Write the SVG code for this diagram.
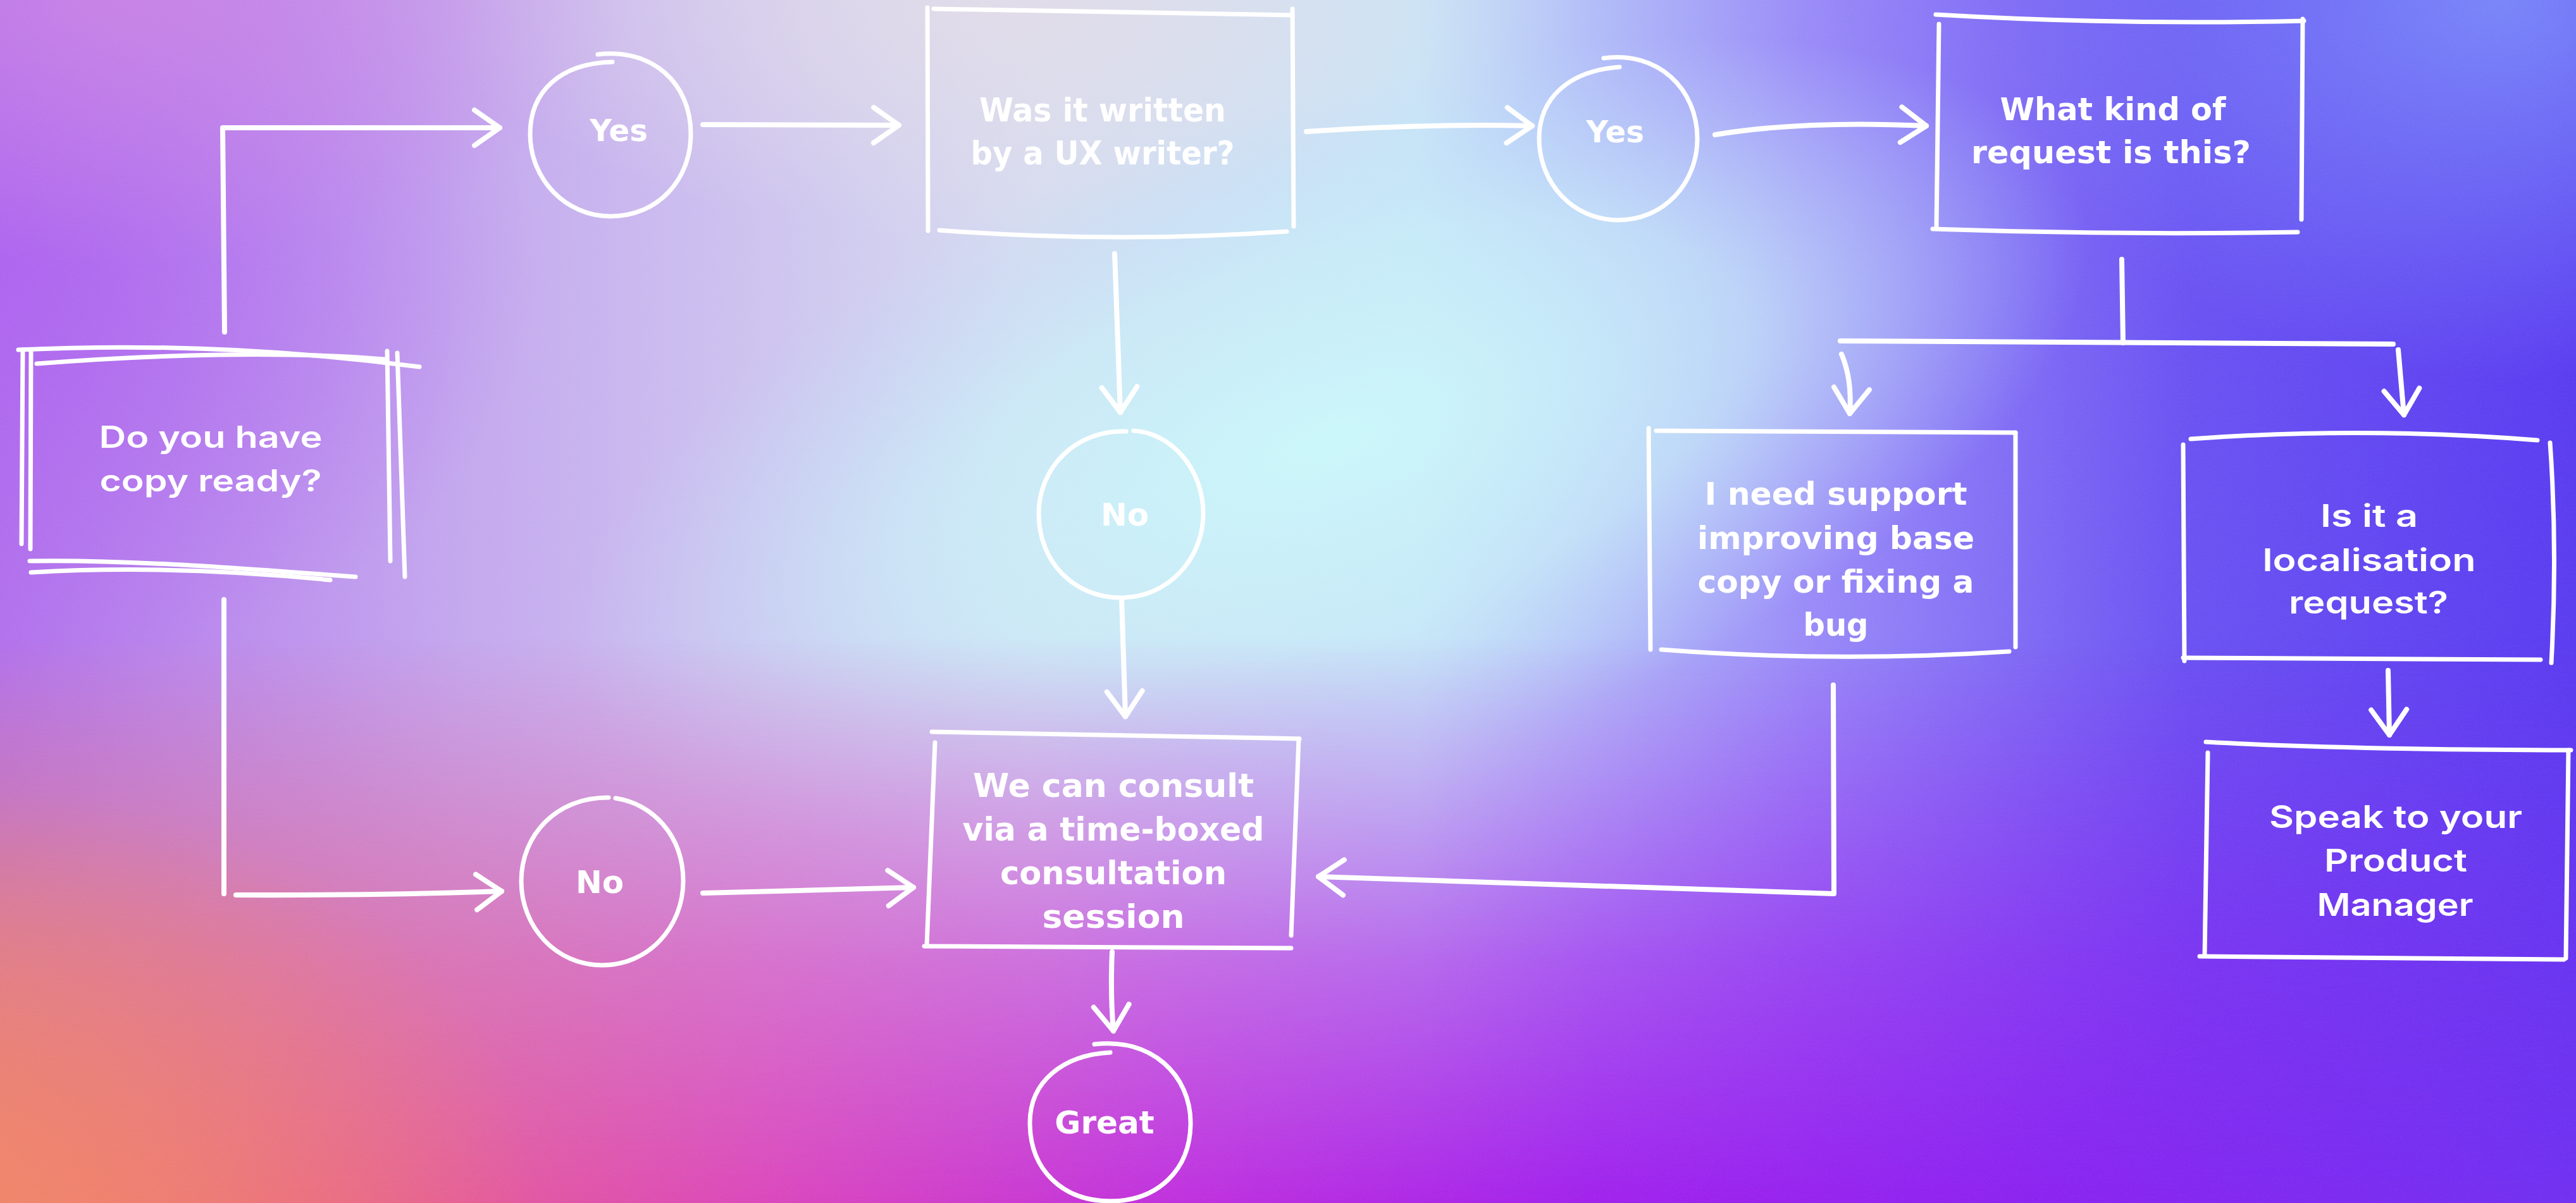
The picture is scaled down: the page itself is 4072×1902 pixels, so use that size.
<svg xmlns="http://www.w3.org/2000/svg" width="4072" height="1902" viewBox="0 0 4072 1902">
<style>
.sk{fill:none;stroke:#fff;stroke-width:7;stroke-linecap:round;stroke-linejoin:round}
.cn{fill:none;stroke:#fff;stroke-width:8;stroke-linecap:round;stroke-linejoin:round}
.ar{marker-end:url(#head)}
.t{fill:#fff;font-family:"DejaVu Sans","Liberation Sans",sans-serif;font-weight:bold;text-anchor:middle}
.m{fill:#fff;font-family:"Inter","Liberation Sans",sans-serif;font-weight:600;text-anchor:middle}
</style>
<defs>
<linearGradient id="base" x1="0" y1="0" x2="4072" y2="0" gradientUnits="userSpaceOnUse">
<stop offset="0" stop-color="#b272ec"/>
<stop offset="0.18" stop-color="#c4a8ee"/>
<stop offset="0.4" stop-color="#d6dcf0"/>
<stop offset="0.55" stop-color="#c6e6f8"/>
<stop offset="0.7" stop-color="#9a8cf8"/>
<stop offset="0.85" stop-color="#6a52f2"/>
<stop offset="1" stop-color="#5a3cf0"/>
</linearGradient>
<radialGradient id="cyan" cx="0" cy="0" r="1" gradientUnits="userSpaceOnUse" gradientTransform="translate(2100 700) rotate(-18) scale(1250 540)">
<stop offset="0" stop-color="#cbf7fa" stop-opacity="1"/>
<stop offset="0.55" stop-color="#c8ecf8" stop-opacity="0.7"/>
<stop offset="1" stop-color="#c0d8f8" stop-opacity="0"/>
</radialGradient>
<radialGradient id="tr" cx="0" cy="0" r="1" gradientUnits="userSpaceOnUse" gradientTransform="translate(3950 0) scale(800 600)">
<stop offset="0" stop-color="#7e92fa" stop-opacity="0.85"/>
<stop offset="1" stop-color="#7e92fa" stop-opacity="0"/>
</radialGradient>
<radialGradient id="tl" cx="0" cy="0" r="1" gradientUnits="userSpaceOnUse" gradientTransform="translate(0 420) scale(850 650)">
<stop offset="0" stop-color="#ac60f0" stop-opacity="0.75"/>
<stop offset="1" stop-color="#ac60f0" stop-opacity="0"/>
</radialGradient>
<radialGradient id="pk" cx="0" cy="0" r="1" gradientUnits="userSpaceOnUse" gradientTransform="translate(200 0) scale(800 420)">
<stop offset="0" stop-color="#cc86e4" stop-opacity="0.8"/>
<stop offset="1" stop-color="#cc86e4" stop-opacity="0"/>
</radialGradient>
<radialGradient id="tc" cx="0" cy="0" r="1" gradientUnits="userSpaceOnUse" gradientTransform="translate(1600 0) scale(900 380)">
<stop offset="0" stop-color="#e2dce8" stop-opacity="0.9"/>
<stop offset="1" stop-color="#e2dce8" stop-opacity="0"/>
</radialGradient>
<linearGradient id="bot" x1="0" y1="0" x2="4072" y2="0" gradientUnits="userSpaceOnUse">
<stop offset="0" stop-color="#ee7e6a"/>
<stop offset="0.12" stop-color="#e8648a"/>
<stop offset="0.3" stop-color="#da46bc"/>
<stop offset="0.45" stop-color="#c030dc"/>
<stop offset="0.62" stop-color="#a020ec"/>
<stop offset="0.8" stop-color="#8a22f0"/>
<stop offset="1" stop-color="#7030f0"/>
</linearGradient>
<linearGradient id="mv" x1="0" y1="0" x2="0" y2="1902" gradientUnits="userSpaceOnUse">
<stop offset="0.53" stop-color="#000"/>
<stop offset="0.8" stop-color="#a8a8a8"/>
<stop offset="1" stop-color="#fff"/>
</linearGradient>
<mask id="mb"><rect width="4072" height="1902" fill="url(#mv)"/></mask>
<radialGradient id="coral" cx="0" cy="0" r="1" gradientUnits="userSpaceOnUse" gradientTransform="translate(0 1902) scale(850 650)">
<stop offset="0" stop-color="#f0866a" stop-opacity="0.85"/>
<stop offset="1" stop-color="#f0866a" stop-opacity="0"/>
</radialGradient>
<filter id="grain" x="0" y="0" width="100%" height="100%">
<feTurbulence type="fractalNoise" baseFrequency="0.85" numOctaves="2" stitchTiles="stitch"/>
<feColorMatrix type="matrix" values="0 0 0 0 1  0 0 0 0 1  0 0 0 0 1  1.4 0 0 0 -0.6"/>
</filter>
<marker id="head" markerUnits="userSpaceOnUse" viewBox="-50 -40 60 80" refX="0" refY="0" markerWidth="60" markerHeight="80" orient="auto" overflow="visible">
<path d="M-40,-28 L0,0 L-40,28" fill="none" stroke="#fff" stroke-width="8" stroke-linecap="round" stroke-linejoin="round"/>
</marker>
</defs>

<g id="background">
<rect width="4072" height="1902" fill="url(#base)"/>
<rect width="4072" height="1902" fill="url(#tl)"/>
<rect width="4072" height="1902" fill="url(#pk)"/>
<rect width="4072" height="1902" fill="url(#tc)"/>
<rect width="4072" height="1902" fill="url(#tr)"/>
<rect width="4072" height="1902" fill="url(#cyan)"/>
<rect width="4072" height="1902" fill="url(#bot)" mask="url(#mb)"/>
<rect width="4072" height="1902" fill="url(#coral)"/>
<rect width="4072" height="1902" filter="url(#grain)" opacity="0.12"/>
</g>

<g id="connectors">
<path class="cn ar" d="M355,525 L352,202 L790,202"/>
<path class="cn ar" d="M1111,197 L1421,198"/>
<path class="cn ar" d="M2065,208 Q2250,195 2422,199"/>
<path class="cn ar" d="M2711,213 Q2850,190 3045,199"/>
<path class="cn" d="M3354,410 L3356,542"/>
<path class="cn" d="M2909,539 L3783,544"/>
<path class="cn ar" d="M2911,560 Q2928,600 2924,654"/>
<path class="cn ar" d="M3791,553 L3800,656"/>
<path class="cn ar" d="M3775,1060 L3777,1162"/>
<path class="cn ar" d="M2898,1083 L2899,1413 L2084,1386"/>
<path class="cn ar" d="M1762,401 L1771,652"/>
<path class="cn ar" d="M1773,946 L1779,1133"/>
<path class="cn ar" d="M1758,1505 Q1755,1570 1760,1630"/>
<path class="cn" d="M354,948 L354,1413"/>
<path class="cn ar" d="M373,1415 Q600,1416 793,1409"/>
<path class="cn ar" d="M1111,1412 L1444,1403"/>
</g>

<g id="node-copy-ready">
<path class="sk" d="M29,553 C200,545 420,548 663,580"/>
<path class="sk" d="M58,575 C250,560 450,555 607,568"/>
<path class="sk" d="M36,553 L34,860"/>
<path class="sk" d="M49,555 L48,868"/>
<path class="sk" d="M612,555 L617,887"/>
<path class="sk" d="M628,558 L640,912"/>
<path class="sk" d="M47,887 C200,884 400,900 562,912"/>
<path class="sk" d="M49,905 C200,896 350,900 522,917"/>
<text class="m" x="333" y="708" font-size="48" textLength="353" lengthAdjust="spacingAndGlyphs">Do you have</text>
<text class="m" x="333" y="777" font-size="48" textLength="351" lengthAdjust="spacingAndGlyphs">copy ready?</text>
</g>

<g id="node-yes-1">
<path class="sk" d="M945,86 C1030,76 1092,130 1092,212 C1092,284 1040,342 965,342 C895,342 838,284 838,212 C838,145 885,100 968,98"/>
<text class="t" x="978" y="223" font-size="48">Yes</text>
</g>

<g id="node-ux-writer">
<path class="sk" d="M1466,12 L1467,365"/>
<path class="sk" d="M1476,14 L2043,24"/>
<path class="sk" d="M2043,14 L2045,358"/>
<path class="sk" d="M1485,364 Q1760,385 2034,366"/>
<text class="t" x="1743" y="192" font-size="52" textLength="390" lengthAdjust="spacingAndGlyphs">Was it written</text>
<text class="t" x="1743" y="260" font-size="52" textLength="417" lengthAdjust="spacingAndGlyphs">by a UX writer?</text>
</g>

<g id="node-yes-2">
<path class="sk" d="M2535,92 C2620,80 2683,140 2683,219 C2683,290 2630,348 2558,348 C2487,348 2433,290 2433,219 C2433,155 2480,112 2560,106"/>
<text class="t" x="2553" y="225" font-size="48">Yes</text>
</g>

<g id="node-request-kind">
<path class="sk" d="M3060,23 Q3350,40 3642,33"/>
<path class="sk" d="M3065,38 L3061,360"/>
<path class="sk" d="M3640,30 L3638,347"/>
<path class="sk" d="M3055,362 Q3340,372 3632,367"/>
<text class="t" x="3340" y="190" font-size="50" textLength="357" lengthAdjust="spacingAndGlyphs">What kind of</text>
<text class="t" x="3337" y="258" font-size="50" textLength="442" lengthAdjust="spacingAndGlyphs">request is this?</text>
</g>

<g id="node-no-1">
<path class="sk" d="M1792,681 C1850,684 1902,740 1902,812 C1902,885 1845,945 1772,945 C1699,945 1642,890 1642,812 C1642,740 1700,679 1780,682"/>
<text class="t" x="1778" y="831" font-size="50">No</text>
</g>

<g id="node-no-2">
<path class="sk" d="M973,1262 C1030,1270 1080,1320 1080,1393 C1080,1466 1025,1526 952,1526 C879,1526 824,1466 824,1393 C824,1320 880,1260 962,1261"/>
<text class="t" x="948" y="1412" font-size="50">No</text>
</g>

<g id="node-consult">
<path class="sk" d="M1473,1157 L2054,1168"/>
<path class="sk" d="M1478,1174 L1465,1495"/>
<path class="sk" d="M2053,1168 L2041,1479"/>
<path class="sk" d="M1461,1496 L2041,1499"/>
<text class="t" x="1760" y="1260" font-size="52" textLength="444" lengthAdjust="spacingAndGlyphs">We can consult</text>
<text class="t" x="1760" y="1329" font-size="52" textLength="477" lengthAdjust="spacingAndGlyphs">via a time-boxed</text>
<text class="t" x="1760" y="1398" font-size="52" textLength="358" lengthAdjust="spacingAndGlyphs">consultation</text>
<text class="t" x="1760" y="1467" font-size="52" textLength="225" lengthAdjust="spacingAndGlyphs">session</text>
</g>

<g id="node-great">
<path class="sk" d="M1730,1651 C1820,1640 1882,1700 1882,1775 C1882,1850 1830,1899 1755,1899 C1680,1899 1628,1850 1628,1775 C1628,1710 1680,1668 1755,1664"/>
<text class="t" x="1746" y="1792" font-size="50">Great</text>
</g>

<g id="node-support">
<path class="sk" d="M2606,677 L2609,1027"/>
<path class="sk" d="M2618,681 L3186,684"/>
<path class="sk" d="M3186,684 L3186,1023"/>
<path class="sk" d="M2626,1027 Q2900,1048 3176,1030"/>
<text class="t" x="2902" y="798" font-size="50" textLength="415" lengthAdjust="spacingAndGlyphs">I need support</text>
<text class="t" x="2902" y="868" font-size="50" textLength="438" lengthAdjust="spacingAndGlyphs">improving base</text>
<text class="t" x="2902" y="937" font-size="50" textLength="437" lengthAdjust="spacingAndGlyphs">copy or fixing a</text>
<text class="t" x="2902" y="1005" font-size="50" textLength="103" lengthAdjust="spacingAndGlyphs">bug</text>
</g>

<g id="node-localisation">
<path class="sk" d="M3463,694 Q3734,674 4011,696"/>
<path class="sk" d="M3451,703 L3453,1045"/>
<path class="sk" d="M4031,700 Q4043,870 4033,1048"/>
<path class="sk" d="M3451,1040 L4016,1043"/>
<text class="m" x="3745" y="833" font-size="49" textLength="154" lengthAdjust="spacingAndGlyphs">Is it a</text>
<text class="m" x="3745" y="903" font-size="49" textLength="337" lengthAdjust="spacingAndGlyphs">localisation</text>
<text class="m" x="3744" y="970" font-size="49" textLength="252" lengthAdjust="spacingAndGlyphs">request?</text>
</g>

<g id="node-product-manager">
<path class="sk" d="M3487,1173 Q3700,1185 4064,1186"/>
<path class="sk" d="M3490,1190 L3485,1511"/>
<path class="sk" d="M4060,1186 L4056,1515"/>
<path class="sk" d="M3477,1512 L4053,1517"/>
<text class="m" x="3787" y="1309" font-size="50" textLength="400" lengthAdjust="spacingAndGlyphs">Speak to your</text>
<text class="m" x="3787" y="1378" font-size="50" textLength="226" lengthAdjust="spacingAndGlyphs">Product</text>
<text class="m" x="3786" y="1448" font-size="50" textLength="247" lengthAdjust="spacingAndGlyphs">Manager</text>
</g>
</svg>
